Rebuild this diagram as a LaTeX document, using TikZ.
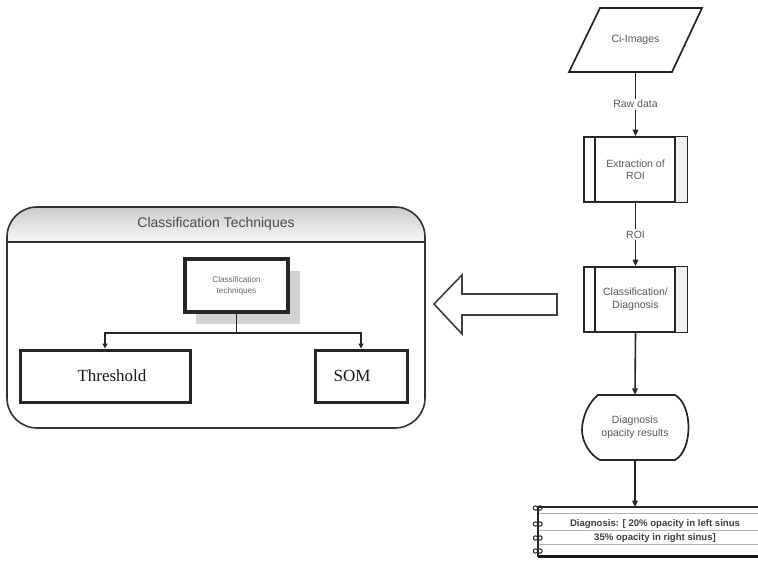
\documentclass[tikz,border=0pt]{standalone}
\usepackage{fontspec}
\setmainfont{Liberation Sans}
\newfontfamily\timesf{Liberation Serif}
\usetikzlibrary{arrows.meta,calc}
\begin{document}
\begin{tikzpicture}[x=1pt,y=-1pt,
  flowtxt/.style={font=\fontsize{10.5}{12.5}\selectfont, text=black!65},
  procbox/.style={draw=black!85, line width=1.7pt, minimum width=103pt, minimum height=65pt, inner sep=0pt, align=center, flowtxt},
  arr/.style={draw=black!85, line width=1.6pt, -{Triangle[length=6.5pt,width=5.5pt]}},
  smallarr/.style={draw=black!85, line width=1.3pt, -{Triangle[length=5pt,width=5pt]}},
  lbl/.style={flowtxt, fill=white, inner sep=1.5pt},
  techbox/.style={draw=black!85, line width=3pt, minimum height=52pt, inner sep=0pt, font=\timesf\fontsize{17}{19}\selectfont, text=black!90},
  ring/.style={draw=black!85, line width=1pt}
]
\useasboundingbox (0,0) rectangle (758,565);
\fill[white] (0,0) rectangle (758,565);

% ---------- right flowchart ----------
\node[flowtxt, minimum width=100pt, minimum height=64pt, inner sep=0pt] (ci) at (635.5,40) {Ci-Images};
\draw[draw=black!85, line width=1.7pt] (600,8) -- (702,8) -- (672,72) -- (569,72) -- cycle;

\node[procbox] (ext) at (635.5,169.5) {Extraction of\\ROI};
\fill[gray!12] ($(ext.north east)+(-13,0.9)$) rectangle ($(ext.south east)+(-0.9,-0.9)$);
\draw[line width=1.7pt, black!85] ($(ext.north west)+(12,0)$) -- ($(ext.south west)+(12,0)$);
\draw[line width=1.7pt, black!85] ($(ext.north east)+(-13,0)$) -- ($(ext.south east)+(-13,0)$);

\node[procbox] (cls) at (635.5,299.5) {Classification/\\Diagnosis};
\fill[gray!12] ($(cls.north east)+(-13,0.9)$) rectangle ($(cls.south east)+(-0.9,-0.9)$);
\draw[line width=1.7pt, black!85] ($(cls.north west)+(12,0)$) -- ($(cls.south west)+(12,0)$);
\draw[line width=1.7pt, black!85] ($(cls.north east)+(-13,0)$) -- ($(cls.south east)+(-13,0)$);

\node[flowtxt, align=center, minimum width=105pt, minimum height=65pt, inner sep=0pt] (disp) at (635,427.5) {Diagnosis\\opacity results};
\draw[draw=black!85, line width=1.7pt] (598,395) -- (675,395)
  .. controls (693,405) and (693,450) .. (675,460) -- (600,460)
  .. controls (590,455) and (582,442) .. (582,430)
  .. controls (582,417) and (589,402) .. (598,395) -- cycle;

% notebook box
\fill[white] (538,507) rectangle (764,557);
\draw[gray!60, line width=0.7pt] (538,513) -- (764,513);
\draw[gray!60, line width=0.7pt] (538,530) -- (764,530);
\draw[gray!60, line width=0.7pt] (538,544) -- (764,544);
\draw[black!85, line width=1.5pt] (538,557) -- (538,507) -- (764,507);
\draw[black!90, line width=3pt] (537.5,556.5) -- (764,556.5);
\node[font=\bfseries\fontsize{9.6}{14}\selectfont, text=black!75, align=center, inner sep=0pt] (note) at (655,531) {Diagnosis: [ 20\% opacity in left sinus\\35\% opacity in right sinus]};
\foreach \yy in {508,524,538,551} {
  \draw[ring] (535.5,\yy) circle (2.2pt);
  \draw[ring] (540,\yy) circle (2.2pt);
}

\draw[arr] (ci.south) -- node[lbl] {Raw data} (ext.north);
\draw[arr] (ext.south) -- node[lbl] {ROI} (cls.north);
\draw[arr] (cls.south) -- (disp.north);
\draw[arr] (disp.south) -- (disp.south |- 0,507);

% ---------- big hollow arrow ----------
\draw[black!75, line width=1.6pt, line join=miter]
  (434,304) -- (462,275) -- (462,294) -- (557,294) -- (557,315) -- (462,315) -- (462,334) -- cycle;

% ---------- left panel ----------
\begin{scope}
  \clip[rounded corners=30pt] (7,207) rectangle (425,428);
  \shade[top color=gray!40, bottom color=gray!6] (7,207) rectangle (425,242);
\end{scope}
\draw[black!80, line width=1.6pt, rounded corners=30pt] (7,207) rectangle (425,428);
\draw[black!80, line width=1.6pt] (7,242) -- (425,242);
\node[font=\fontsize{14}{16}\selectfont, text=black!70] (ttl) at (216,224) {Classification Techniques};

\fill[gray!35] (196,271) rectangle (300,324);
\node[draw=black!85, line width=3.5pt, fill=white, minimum width=103pt, minimum height=53pt, inner sep=0pt, align=center,
      font=\fontsize{8.2}{11}\selectfont, text=black!60] (ct) at (236.5,285.5) {Classification\\techniques};

\node[techbox, minimum width=170pt] (thr) at (105,376) {\hspace*{14pt}Threshold};
\node[techbox, minimum width=92pt] (som) at (361,376) {SOM\hspace*{18pt}};

\coordinate (jn) at (ct.south |- 0,333);
\draw[black!85, line width=1.3pt] (ct.south) -- (jn);
\draw[smallarr] (jn) -| (thr.north);
\draw[smallarr] (jn) -| (som.north);
\end{tikzpicture}
\end{document}
